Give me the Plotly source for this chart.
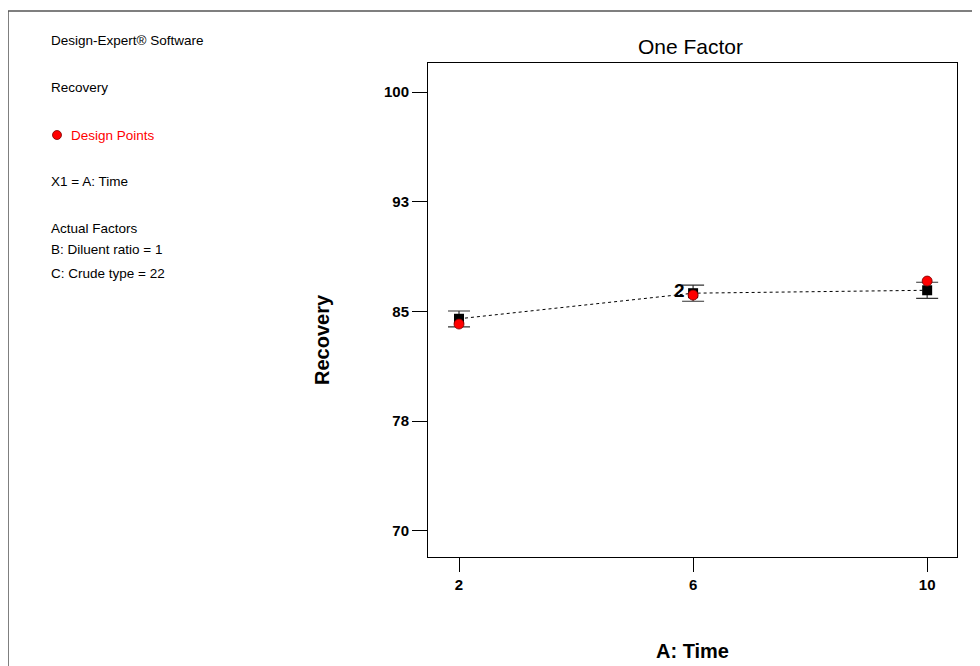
import plotly.graph_objects as go

# ---- data ----
time_levels = [2, 6, 10]
predicted = [84.5, 86.25, 86.45]
lsd_upper = [85.03, 86.8, 87.0]
lsd_lower = [83.94, 85.7, 85.9]
design_x = [2, 6, 10]
design_y = [84.14, 86.12, 87.08]
y_tick_vals = [70, 77.5, 85, 92.5, 100]
y_tick_text = ["70", "78", "85", "93", "100"]
x_tick_vals = [2, 6, 10]
x_tick_text = ["2", "6", "10"]
info_lines = [
    ("Design-Expert® Software", 41, "black"),
    ("Recovery", 88, "black"),
    ("Design Points", 135, "red"),
    ("X1 = A: Time", 181, "black"),
    ("Actual Factors", 228, "black"),
    ("B: Diluent ratio = 1", 250, "black"),
    ("C: Crude type = 22", 273, "black"),
]

# ---- layout geometry (page pixels; the page body adds an 8px offset) ----
OFF = 8
W, H = 980 - OFF, 666 - OFF
L, R, T, B = 428, 957, 63, 557          # plot area in page pixels
PW, PH = R - L, B - T


def px2x(px):
    return (px - L) / PW


def px2y(py):
    return (B - py) / PH


fig = go.Figure()

err_plus = [u - p for u, p in zip(lsd_upper, predicted)]
err_minus = [p - l for p, l in zip(predicted, lsd_lower)]

# prediction line (dotted)
fig.add_trace(go.Scatter(
    x=time_levels, y=predicted, mode="lines",
    line=dict(color="black", width=1, dash="dot"),
    showlegend=False, hoverinfo="skip",
))
# predicted points with LSD bars
fig.add_trace(go.Scatter(
    x=time_levels, y=predicted, mode="markers",
    marker=dict(symbol="square", size=10, color="black"),
    error_y=dict(type="data", symmetric=False, array=err_plus, arrayminus=err_minus,
                 color="#333333", thickness=1.2, width=11),
    showlegend=False,
))
# design points
fig.add_trace(go.Scatter(
    x=design_x, y=design_y, mode="markers", name="Design Points",
    marker=dict(symbol="circle", size=10, color="red",
                line=dict(color="#7a0000", width=0.8)),
    showlegend=False,
))

annotations = []
shapes = []

FONT = "Liberation Sans Narrow, Liberation Sans, Arial"

# info text on the left
for text, py, col in info_lines:
    xpix = 69 if text == "Design Points" else 49
    annotations.append(dict(
        text=text, xref="paper", yref="paper", x=px2x(xpix), y=px2y(py),
        xanchor="left", yanchor="middle", showarrow=False,
        font=dict(family=FONT, size=13.5, color=col),
    ))
# red dot next to "Design Points"
shapes.append(dict(
    type="circle", xref="paper", yref="paper",
    xsizemode="pixel", ysizemode="pixel",
    xanchor=px2x(57), yanchor=px2y(135),
    x0=-4.5, x1=4.5, y0=-4.5, y1=4.5,
    fillcolor="red", line=dict(color="#7a0000", width=0.8),
))

# "2" label (replicate count) next to centre point
annotations.append(dict(
    text="<b>2</b>", x=6, y=predicted[1], xref="x", yref="y",
    xanchor="right", yanchor="middle", showarrow=False, xshift=-6, yshift=3,
    font=dict(family="Liberation Sans, Arial", size=19, color="black"),
))

# y axis title
annotations.append(dict(
    text="<b>Recovery</b>", xref="paper", yref="paper",
    x=px2x(322), y=px2y(340), textangle=-90,
    xanchor="center", yanchor="middle", showarrow=False,
    font=dict(family=FONT, size=20, color="black"),
))
# x axis title
annotations.append(dict(
    text="<b>A: Time</b>", xref="paper", yref="paper",
    x=px2x(692), y=px2y(651),
    xanchor="center", yanchor="middle", showarrow=False,
    font=dict(family=FONT, size=20, color="black"),
))
# title
annotations.append(dict(
    text="One Factor", xref="paper", yref="paper",
    x=px2x(690), y=px2y(47),
    xanchor="center", yanchor="middle", showarrow=False,
    font=dict(family=FONT, size=21, color="black"),
))

# outer frame (top and left edges visible)
shapes.append(dict(type="line", xref="paper", yref="paper",
                   x0=px2x(8), x1=px2x(990), y0=px2y(11), y1=px2y(11),
                   line=dict(color="#555555", width=1.5)))
shapes.append(dict(type="line", xref="paper", yref="paper",
                   x0=px2x(8), x1=px2x(8), y0=px2y(11), y1=px2y(680),
                   line=dict(color="#555555", width=1.5)))

fig.update_layout(
    width=W, height=H,
    margin=dict(l=L - OFF, r=(W + OFF) - R, t=T - OFF, b=(H + OFF) - B, pad=0),
    paper_bgcolor="white", plot_bgcolor="white",
    annotations=annotations, shapes=shapes,
    showlegend=False,
)
fig.update_xaxes(
    range=[1.47, 10.51], tickvals=x_tick_vals, ticktext=x_tick_text,
    ticks="outside", ticklen=14, tickcolor="black", tickwidth=1,
    showline=True, linecolor="black", linewidth=1, mirror=True,
    showgrid=False, zeroline=False,
    tickfont=dict(family="Liberation Sans, Arial", size=15, color="black", weight="bold"),
)
fig.update_yaxes(
    range=[68.2, 102.0], tickvals=y_tick_vals, ticktext=y_tick_text,
    ticks="outside", ticklen=15, tickcolor="black", tickwidth=1,
    showline=True, linecolor="black", linewidth=1, mirror=True,
    showgrid=False, zeroline=False,
    tickfont=dict(family="Liberation Sans, Arial", size=15, color="black", weight="bold"),
)

fig.write_html("out.html")
